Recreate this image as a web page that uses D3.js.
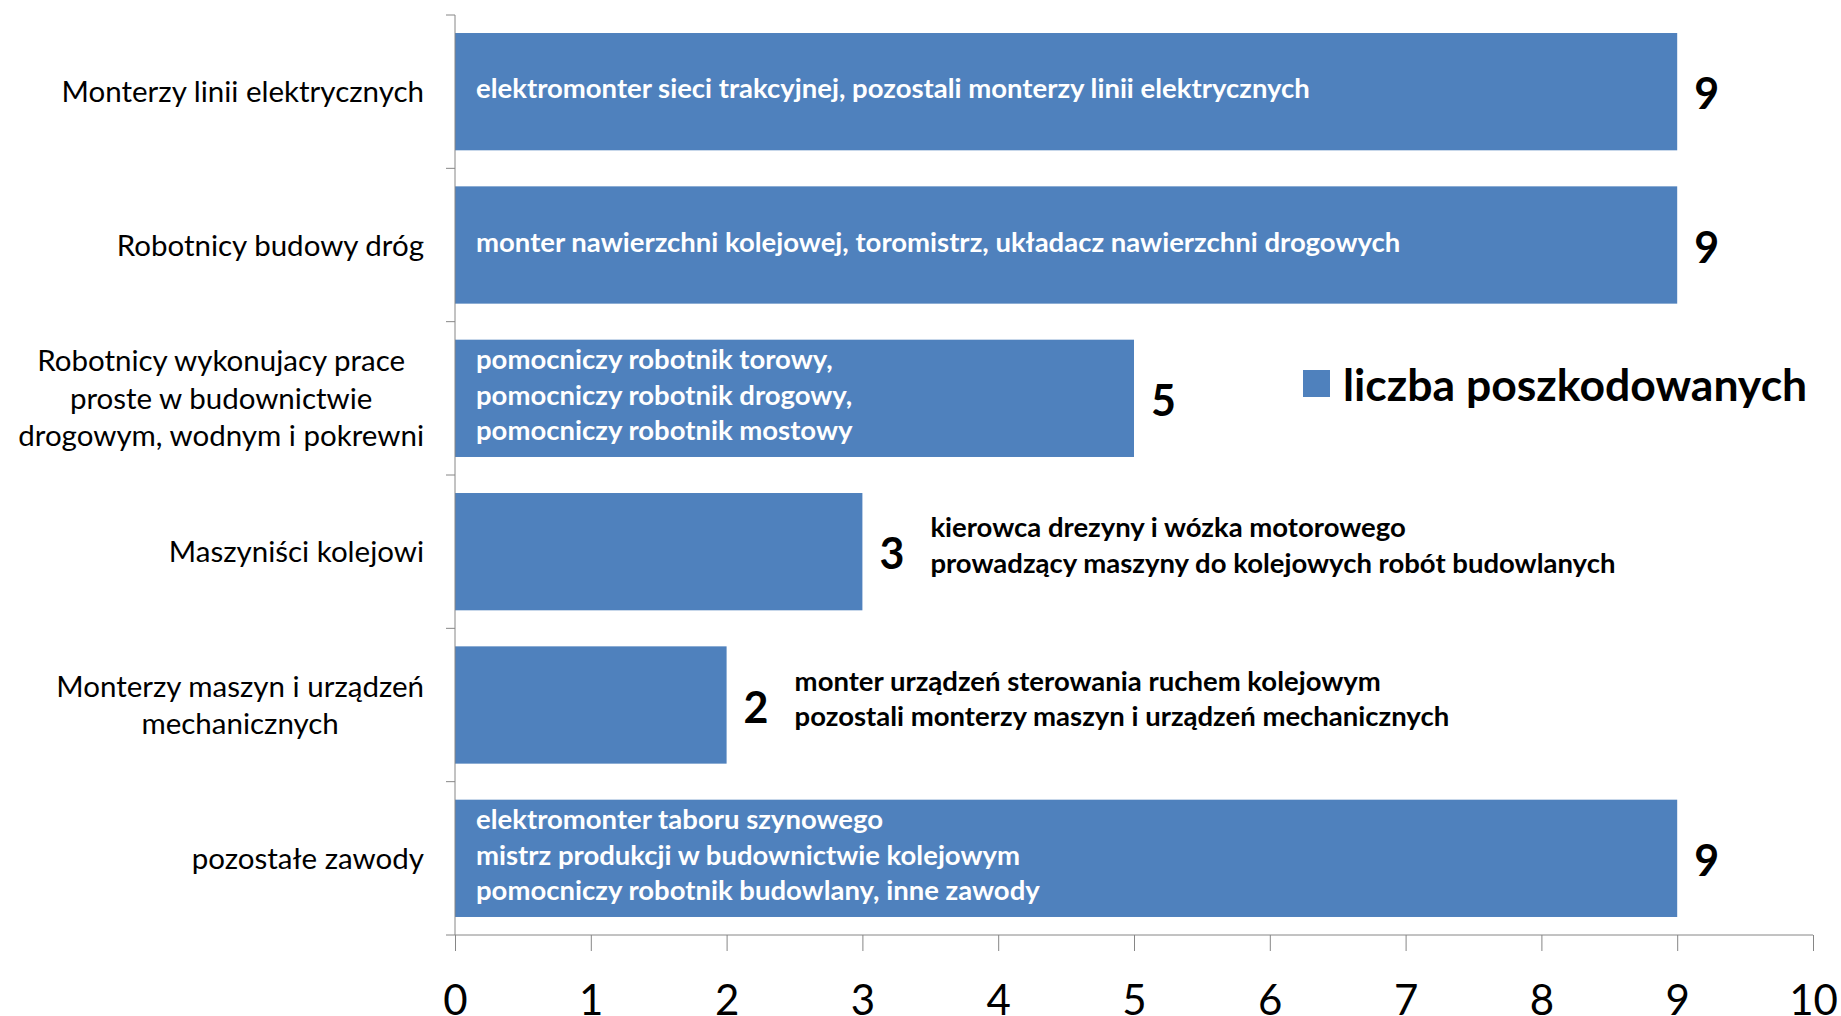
<!DOCTYPE html>
<html>
<head>
<meta charset="utf-8">
<script src="https://cdn.jsdelivr.net/npm/d3@7"></script>
<style>
  body { margin: 0; background: #fff; }
  svg { display: block; font-family: Lato, Carlito, Calibri, sans-serif; }
  .tick line, .domain { stroke: #868686; }
</style>
</head>
<body>
<svg width="1841" height="1016"></svg>
<script>
// categories (top to bottom), each may span several lines
const categories = [
  ['Monterzy linii elektrycznych'],
  ['Robotnicy budowy dróg'],
  ['Robotnicy wykonujacy prace', 'proste w budownictwie', 'drogowym, wodnym i pokrewni'],
  ['Maszyniści kolejowi'],
  ['Monterzy maszyn i urządzeń', 'mechanicznych'],
  ['pozostałe zawody']
];
const values = [9, 9, 5, 3, 2, 9];
const details = [
  ['elektromonter sieci trakcyjnej, pozostali monterzy linii elektrycznych'],
  ['monter nawierzchni kolejowej, toromistrz, układacz nawierzchni drogowych'],
  ['pomocniczy robotnik torowy,', 'pomocniczy robotnik drogowy,', 'pomocniczy robotnik mostowy'],
  ['kierowca drezyny i wózka motorowego', 'prowadzący maszyny do kolejowych robót budowlanych'],
  ['monter urządzeń sterowania ruchem kolejowym', 'pozostali monterzy maszyn i urządzeń mechanicznych'],
  ['elektromonter taboru szynowego', 'mistrz produkcji w budownictwie kolejowym', 'pomocniczy robotnik budowlany, inne zawody']
];
const detailInside = [true, true, true, false, false, true];
const xTicks = [0, 1, 2, 3, 4, 5, 6, 7, 8, 9, 10];
const seriesName = 'liczba poszkodowanych';

const blue = '#4F81BD';
const svg = d3.select('svg');
const keys = categories.map((c, i) => i);

let x = d3.scaleLinear().domain([0, 10]).range([455, 1813]);
let y = d3.scaleBand().domain(keys).range([15, 935]).paddingInner(0.235).paddingOuter(0.1175);

// bars
svg.append('g').selectAll('rect').data(values).join('rect')
  .attr('x', x(0))
  .attr('y', (d, i) => y(i))
  .attr('width', d => x(d) - x(0))
  .attr('height', y.bandwidth())
  .attr('fill', blue);

// y axis line + ticks at band edges
let yAxis = svg.append('g');
yAxis.append('line').attr('class', 'domain')
  .attr('x1', x(0)).attr('x2', x(0)).attr('y1', 15).attr('y2', 935);
yAxis.selectAll('.edge').data(d3.range(keys.length)).join('line')
  .attr('class', 'edge')
  .attr('stroke', '#868686')
  .attr('x1', x(0) - 9).attr('x2', x(0))
  .attr('y1', i => y.range()[0] + i * y.step())
  .attr('y2', i => y.range()[0] + i * y.step());

// x axis
let xAxis = svg.append('g').attr('transform', 'translate(0,935)')
  .call(d3.axisBottom(x).tickValues(xTicks).tickSize(16).tickSizeOuter(0));
xAxis.select('.domain').attr('d', `M${x(0) - 9},0H${x(10)}`);
xAxis.selectAll('.tick text')
  .attr('y', 80)
  .attr('dy', 0)
  .attr('fill', '#000')
  .style('font-size', '42px')
  .style('font-family', 'Lato, sans-serif');

// category labels
const catSize = 29.5, catLead = 37.6;
svg.append('g').selectAll('text').data(categories).join('text')
  .attr('text-anchor', 'middle')
  .style('font-size', catSize + 'px')
  .each(function (lines, i) {
    let t = d3.select(this);
    let cy = y(i) + y.bandwidth() / 2 - 1;
    let top = cy - (lines.length - 1) * catLead / 2;
    lines.forEach((l, j) => {
      t.append('tspan').attr('x', 0).attr('y', top + j * catLead).attr('dominant-baseline', 'central').text(l);
    });
    // right align the block, centre the lines within it
    let w = this.getBBox().width;
    t.selectAll('tspan').attr('x', 424 - w / 2);
  });

// value labels
svg.append('g').selectAll('text').data(values).join('text')
  .attr('x', d => x(d) + 17)
  .attr('y', (d, i) => y(i) + y.bandwidth() / 2 + 1)
  .attr('dominant-baseline', 'central')
  .style('font-size', '43px')
  .style('font-weight', 'bold')
  .text(d => d);

// detail texts, inside the bar (white) or beside the value (black)
const detSize = 27.5, detLead = 35.5;
svg.append('g').selectAll('text').data(details).join('text')
  .style('font-size', detSize + 'px')
  .style('font-weight', 'bold')
  .attr('fill', (d, i) => detailInside[i] ? '#fff' : '#000')
  .each(function (lines, i) {
    let t = d3.select(this);
    let cy = y(i) + y.bandwidth() / 2 + (detailInside[i] ? -4 : -7);
    let tx = detailInside[i] ? x(0) + 21 : x(values[i]) + 68;
    let top = cy - (lines.length - 1) * detLead / 2;
    lines.forEach((l, j) => {
      t.append('tspan').attr('x', tx).attr('y', top + j * detLead)
        .attr('dominant-baseline', 'central').text(l);
    });
  });

// legend
let legend = svg.append('g');
legend.append('rect').attr('x', 1303).attr('y', 370).attr('width', 27).attr('height', 27).attr('fill', blue);
legend.append('text').attr('x', 1343).attr('y', 383)
  .attr('dominant-baseline', 'central')
  .style('font-size', '44.5px').style('font-weight', 'bold')
  .text(seriesName);
</script>
</body>
</html>
